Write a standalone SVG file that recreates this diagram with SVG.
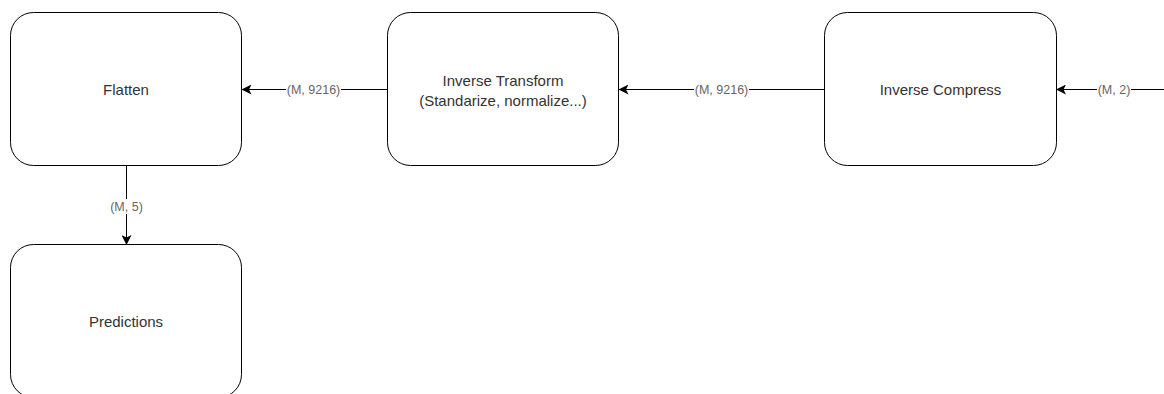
<svg xmlns="http://www.w3.org/2000/svg" width="1164" height="394" viewBox="0 0 1164 394">
  <style>
    .box { fill: #ffffff; stroke: #000000; stroke-width: 1; }
    .node-text { font-family: "Liberation Sans", Arial, sans-serif; font-size: 15px; fill: #333333; text-anchor: middle; dominant-baseline: central; }
    .edge { stroke: #000000; stroke-width: 1; fill: none; marker-end: url(#arrow); }
    .edge-label { font-family: "Liberation Sans", Arial, sans-serif; font-size: 12.5px; fill: #666666; text-anchor: middle; dominant-baseline: central; }
    .label-bg { fill: #ffffff; }
  </style>
  <defs>
    <marker id="arrow" viewBox="0 0 10 10" refX="9" refY="5" markerWidth="10" markerHeight="10" markerUnits="userSpaceOnUse" orient="auto">
      <path d="M0,0 L10,5 L0,10 L2.5,5 Z" fill="#000000"/>
    </marker>
  </defs>
  <rect width="1164" height="394" fill="#ffffff"/>

  <g id="connectors">
    <!-- Inverse Compress input (source off to the right) -->
    <line class="edge" x1="1170" y1="89.5" x2="1057" y2="89.5"/>
    <rect class="label-bg" x="1097" y="82" width="34" height="15"/>
    <text class="edge-label" x="1114" y="89.5">(M, 2)</text>

    <!-- Inverse Compress -> Inverse Transform -->
    <line class="edge" x1="824.5" y1="89.5" x2="619.5" y2="89.5"/>
    <rect class="label-bg" x="694" y="82" width="55" height="15"/>
    <text class="edge-label" x="721.5" y="89.5">(M, 9216)</text>

    <!-- Inverse Transform -> Flatten -->
    <line class="edge" x1="387.5" y1="89.5" x2="242.5" y2="89.5"/>
    <rect class="label-bg" x="286" y="82" width="55" height="15"/>
    <text class="edge-label" x="313.5" y="89.5">(M, 9216)</text>

    <!-- Flatten -> Predictions -->
    <line class="edge" x1="126.5" y1="166" x2="126.5" y2="244"/>
    <rect class="label-bg" x="108" y="199" width="37" height="15"/>
    <text class="edge-label" x="126.5" y="206.5">(M, 5)</text>
  </g>

  <g id="flatten">
    <rect class="box" x="10.5" y="12.5" width="231" height="153" rx="23" ry="23"/>
    <text class="node-text" x="126" y="89">Flatten</text>
  </g>

  <g id="inverse-transform">
    <rect class="box" x="387.5" y="12.5" width="231" height="153" rx="23" ry="23"/>
    <text class="node-text" x="503" y="80">Inverse Transform</text>
    <text class="node-text" x="503" y="100">(Standarize, normalize...)</text>
  </g>

  <g id="inverse-compress">
    <rect class="box" x="824.5" y="12.5" width="232" height="153" rx="23" ry="23"/>
    <text class="node-text" x="940.5" y="89">Inverse Compress</text>
  </g>

  <g id="predictions">
    <rect class="box" x="10.5" y="244.5" width="231" height="153" rx="23" ry="23"/>
    <text class="node-text" x="126" y="321">Predictions</text>
  </g>
</svg>
